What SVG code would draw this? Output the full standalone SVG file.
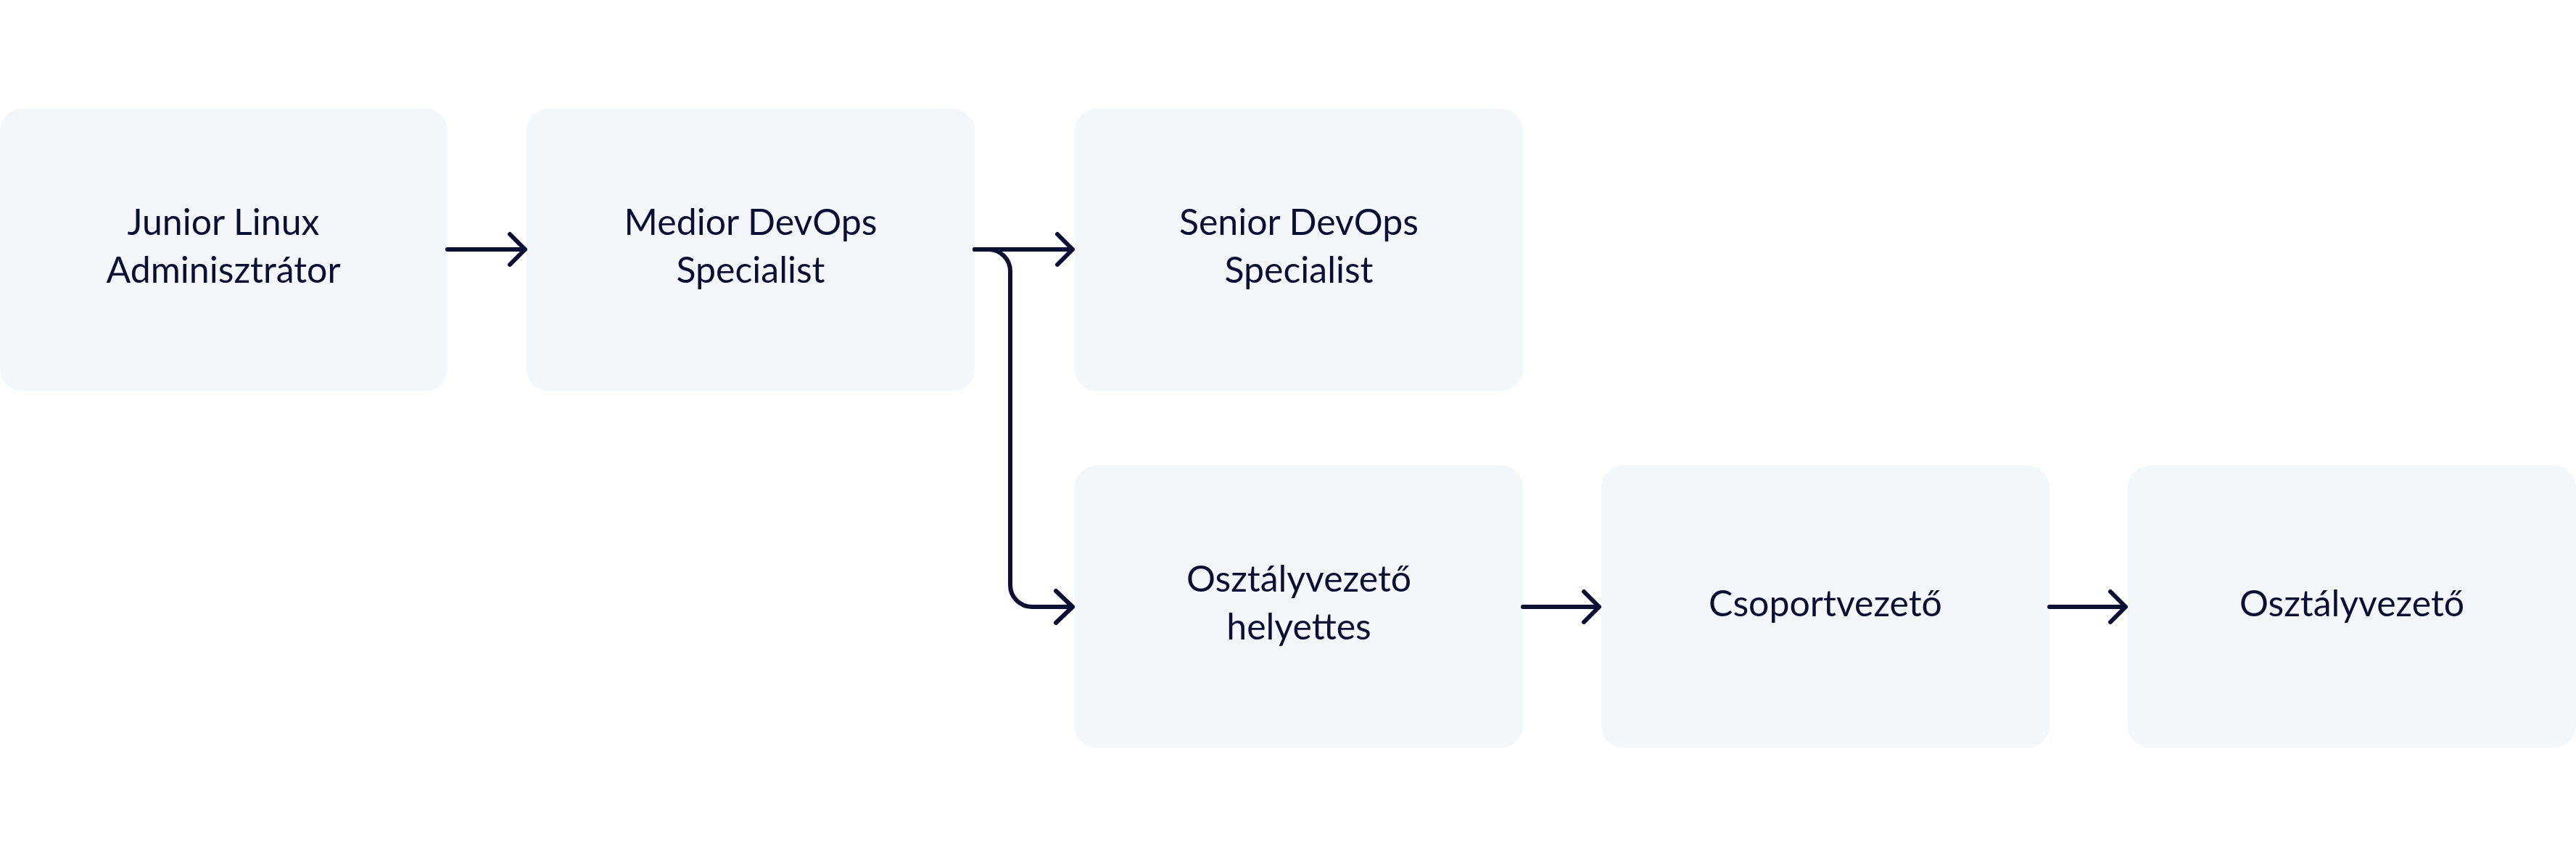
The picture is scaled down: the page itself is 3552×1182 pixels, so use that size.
<svg xmlns="http://www.w3.org/2000/svg" width="3552" height="1182" viewBox="0 0 3552 1182">
<defs>
<style>
.box{fill:#F4F7FA}
.lbl{font-family:Lato,"Open Sans","Liberation Sans",sans-serif;font-size:50px;fill:#0B0F33;text-anchor:middle}
.ln{fill:none;stroke:#0B0F33;stroke-width:6;stroke-linecap:round;stroke-linejoin:round}
</style>
</defs>
<rect width="3552" height="1182" fill="#FFFFFF"/>
<g id="n1"><rect class="box" x="0" y="150" width="617" height="389" rx="30"/><text class="lbl" x="308" y="324">Junior Linux</text><text class="lbl" x="308" y="390">Adminisztrátor</text></g>
<g id="n2"><rect class="box" x="726" y="150" width="618" height="389" rx="30"/><text class="lbl" x="1035" y="324">Medior DevOps</text><text class="lbl" x="1035" y="390">Specialist</text></g>
<g id="n3"><rect class="box" x="1482" y="150" width="618" height="389" rx="30"/><text class="lbl" x="1791" y="324">Senior DevOps</text><text class="lbl" x="1791" y="390">Specialist</text></g>
<g id="n4"><rect class="box" x="1482" y="642" width="618" height="389" rx="30"/><text class="lbl" x="1791" y="816">Osztályvezető</text><text class="lbl" x="1791" y="882">helyettes</text></g>
<g id="n5"><rect class="box" x="2208" y="642" width="618" height="389" rx="30"/><text class="lbl" x="2517" y="850">Csoportvezető</text></g>
<g id="n6"><rect class="box" x="2934" y="642" width="618" height="389" rx="30"/><text class="lbl" x="3243" y="850">Osztályvezető</text></g>
<g id="connectors">
<path class="ln" d="M617 344 H724 M703 323 L724 344 L703 365"/>
<path class="ln" d="M1344 344 H1479 M1458 323 L1479 344 L1458 365"/>
<path class="ln" d="M1344 344 H1363 A30 30 0 0 1 1393 374 V807 A30 30 0 0 0 1423 837 H1479 M1456 815 L1479 837 L1456 859"/>
<path class="ln" d="M2100 837 H2205 M2184 816 L2205 837 L2184 858"/>
<path class="ln" d="M2826 837 H2931 M2910 816 L2931 837 L2910 858"/>
</g>
</svg>
